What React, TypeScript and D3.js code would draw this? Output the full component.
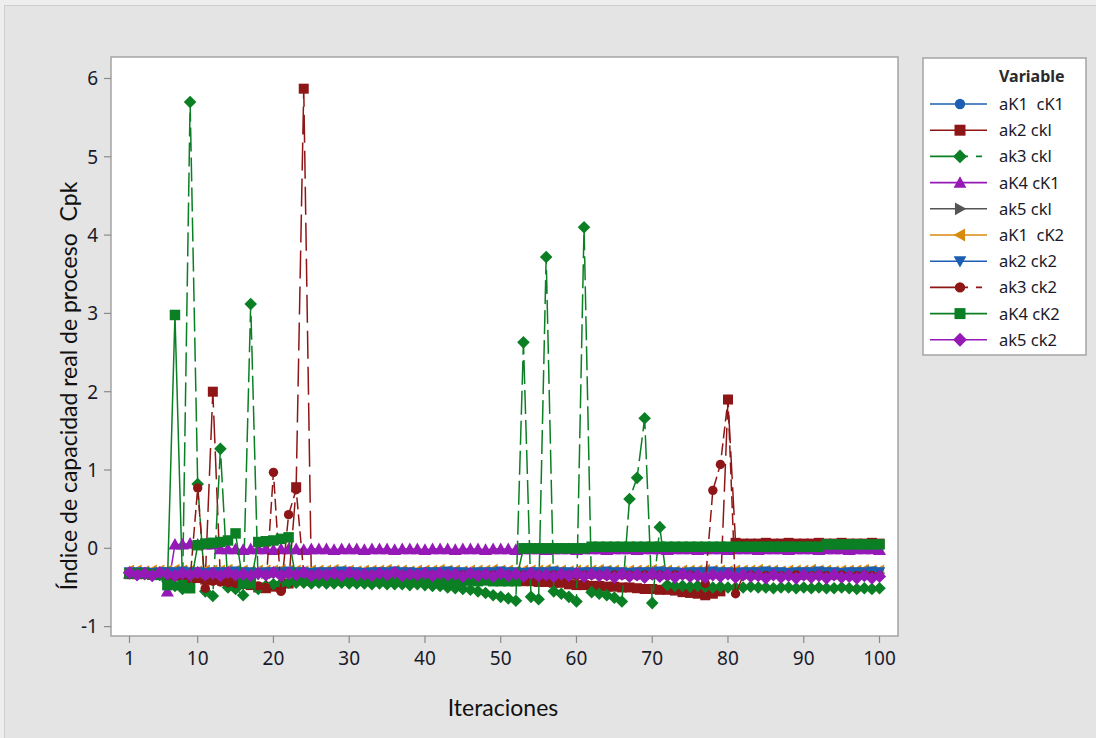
import React from "react";
import * as d3 from "d3";

// ---------- DATA ----------
const ITERATIONS: number[] = d3.range(1, 101);
const X_TICKS = [1, 10, 20, 30, 40, 50, 60, 70, 80, 90, 100];
const Y_TICKS = [-1, 0, 1, 2, 3, 4, 5, 6];

const aK1_cK1 = [
  -0.31,-0.31,-0.32,-0.31,-0.31,-0.30,-0.31,-0.31,-0.31,-0.32,
  -0.31,-0.31,-0.30,-0.31,-0.31,-0.31,-0.32,-0.31,-0.31,-0.31,
  -0.30,-0.31,-0.31,-0.31,-0.32,-0.31,-0.31,-0.30,-0.31,-0.31,
  -0.31,-0.32,-0.31,-0.31,-0.31,-0.30,-0.31,-0.31,-0.32,-0.31,
  -0.31,-0.31,-0.30,-0.31,-0.31,-0.32,-0.31,-0.31,-0.31,-0.30,
  -0.31,-0.31,-0.32,-0.31,-0.31,-0.31,-0.30,-0.31,-0.31,-0.32,
  -0.31,-0.31,-0.31,-0.30,-0.31,-0.31,-0.32,-0.31,-0.31,-0.31,
  -0.30,-0.31,-0.31,-0.32,-0.31,-0.31,-0.31,-0.30,-0.31,-0.31,
  -0.32,-0.31,-0.31,-0.31,-0.30,-0.31,-0.31,-0.32,-0.31,-0.31,
  -0.31,-0.30,-0.31,-0.31,-0.32,-0.31,-0.31,-0.31,-0.30,-0.31,
];
const ak2_ck1 = [
  -0.33,-0.33,-0.33,-0.34,-0.34,-0.34,-0.35,-0.35,-0.36,-0.38,
  -0.40, 2.00,-0.40,-0.42,-0.43,-0.45,-0.47,-0.50,-0.51,-0.49,
  -0.50,-0.45, 0.78, 5.87,-0.35,-0.34,-0.34,-0.34,-0.35,-0.34,
  -0.34,-0.34,-0.35,-0.34,-0.34,-0.35,-0.34,-0.34,-0.35,-0.34,
  -0.34,-0.35,-0.35,-0.35,-0.36,-0.36,-0.36,-0.37,-0.37,-0.38,
  -0.40,-0.41,-0.42,-0.42,-0.43,-0.43,-0.44,-0.44,-0.46,-0.47,
  -0.47,-0.48,-0.48,-0.49,-0.49,-0.50,-0.50,-0.51,-0.52,-0.52,
  -0.53,-0.53,-0.54,-0.56,-0.57,-0.58,-0.60,-0.58,-0.55, 1.90,
   0.07, 0.06, 0.06, 0.06, 0.07, 0.06, 0.06, 0.07, 0.06, 0.06,
   0.06, 0.07, 0.06, 0.06, 0.07, 0.06, 0.06, 0.06, 0.07, 0.06,
];
const ak3_ck1 = [
  -0.32,-0.32,-0.33,-0.33,-0.34,-0.42,-0.48,-0.52, 5.70, 0.82,
  -0.55,-0.61, 1.27,-0.50,-0.52,-0.60, 3.12,-0.52,-0.48,-0.46,
  -0.45,-0.44,-0.44,-0.44,-0.45,-0.44,-0.45,-0.45,-0.44,-0.45,
  -0.45,-0.45,-0.46,-0.45,-0.46,-0.46,-0.46,-0.47,-0.46,-0.47,
  -0.48,-0.48,-0.50,-0.51,-0.52,-0.53,-0.55,-0.57,-0.60,-0.62,
  -0.64,-0.67, 2.63,-0.62,-0.65, 3.72,-0.55,-0.58,-0.62,-0.68,
   4.10,-0.56,-0.58,-0.60,-0.63,-0.68, 0.63, 0.90, 1.66,-0.70,
   0.27,-0.47,-0.48,-0.48,-0.49,-0.48,-0.49,-0.50,-0.49,-0.50,
  -0.50,-0.50,-0.49,-0.50,-0.50,-0.51,-0.50,-0.50,-0.51,-0.50,
  -0.51,-0.50,-0.51,-0.51,-0.50,-0.51,-0.52,-0.51,-0.52,-0.51,
];
const aK4_cK1 = [
  -0.32,-0.32,-0.32,-0.32,-0.33,-0.55, 0.05, 0.05, 0.06, 0.05,
   0.05, 0.05,-0.01,-0.01,-0.01,-0.02,-0.01,-0.01,-0.01,-0.02,
  -0.01,-0.01,-0.01,-0.02,-0.01,-0.01,-0.01,-0.02,-0.01,-0.01,
  -0.01,-0.02,-0.01,-0.01,-0.01,-0.02,-0.01,-0.01,-0.01,-0.02,
  -0.01,-0.01,-0.01,-0.02,-0.01,-0.01,-0.01,-0.02,-0.01,-0.01,
  -0.01,-0.02,-0.01,-0.01,-0.01,-0.02,-0.01,-0.01,-0.01,-0.02,
  -0.01,-0.01,-0.01,-0.02,-0.01,-0.01,-0.01,-0.02,-0.01,-0.01,
  -0.01,-0.02,-0.01,-0.01,-0.01,-0.02,-0.01,-0.01,-0.01,-0.02,
  -0.01,-0.01,-0.01,-0.02,-0.01,-0.01,-0.01,-0.02,-0.01,-0.01,
  -0.01,-0.02,-0.01,-0.01,-0.01,-0.02,-0.01,-0.01,-0.01,-0.02,
];
const ak5_ck1 = [
  -0.32,-0.32,-0.31,-0.32,-0.32,-0.33,-0.32,-0.32,-0.31,-0.32,
  -0.32,-0.33,-0.32,-0.32,-0.31,-0.32,-0.32,-0.33,-0.32,-0.32,
  -0.31,-0.32,-0.32,-0.33,-0.32,-0.32,-0.31,-0.32,-0.32,-0.33,
  -0.32,-0.32,-0.31,-0.32,-0.32,-0.33,-0.32,-0.32,-0.31,-0.32,
  -0.32,-0.33,-0.32,-0.32,-0.31,-0.32,-0.32,-0.33,-0.32,-0.32,
  -0.31,-0.32,-0.32,-0.33,-0.32,-0.32,-0.31,-0.32,-0.32,-0.33,
  -0.32,-0.32,-0.31,-0.32,-0.32,-0.33,-0.32,-0.32,-0.31,-0.32,
  -0.32,-0.33,-0.32,-0.32,-0.31,-0.32,-0.32,-0.33,-0.32,-0.32,
  -0.31,-0.32,-0.32,-0.33,-0.32,-0.32,-0.31,-0.32,-0.32,-0.33,
  -0.32,-0.32,-0.31,-0.32,-0.32,-0.33,-0.32,-0.32,-0.31,-0.32,
];
const aK1_cK2 = [
  -0.28,-0.28,-0.29,-0.28,-0.28,-0.28,-0.27,-0.28,-0.28,-0.29,
  -0.28,-0.28,-0.28,-0.27,-0.28,-0.28,-0.29,-0.28,-0.28,-0.28,
  -0.27,-0.28,-0.28,-0.29,-0.28,-0.28,-0.28,-0.27,-0.28,-0.28,
  -0.29,-0.28,-0.28,-0.28,-0.27,-0.28,-0.28,-0.29,-0.28,-0.28,
  -0.28,-0.27,-0.28,-0.28,-0.29,-0.28,-0.28,-0.28,-0.27,-0.28,
  -0.28,-0.29,-0.28,-0.28,-0.28,-0.27,-0.28,-0.28,-0.29,-0.28,
  -0.28,-0.28,-0.27,-0.28,-0.28,-0.29,-0.28,-0.28,-0.28,-0.27,
  -0.28,-0.28,-0.29,-0.28,-0.28,-0.28,-0.27,-0.28,-0.28,-0.29,
  -0.28,-0.28,-0.28,-0.27,-0.28,-0.28,-0.29,-0.28,-0.28,-0.28,
  -0.27,-0.28,-0.28,-0.29,-0.28,-0.28,-0.28,-0.27,-0.28,-0.28,
];
const ak2_ck2 = [
  -0.30,-0.30,-0.30,-0.31,-0.30,-0.30,-0.30,-0.29,-0.30,-0.30,
  -0.31,-0.30,-0.30,-0.30,-0.29,-0.30,-0.30,-0.31,-0.30,-0.30,
  -0.30,-0.29,-0.30,-0.30,-0.31,-0.30,-0.30,-0.30,-0.29,-0.30,
  -0.30,-0.31,-0.30,-0.30,-0.30,-0.29,-0.30,-0.30,-0.31,-0.30,
  -0.30,-0.30,-0.29,-0.30,-0.30,-0.31,-0.30,-0.30,-0.30,-0.29,
  -0.30,-0.30,-0.31,-0.30,-0.30,-0.30,-0.29,-0.30,-0.30,-0.31,
  -0.30,-0.30,-0.30,-0.29,-0.30,-0.30,-0.31,-0.30,-0.30,-0.30,
  -0.29,-0.30,-0.30,-0.31,-0.30,-0.30,-0.30,-0.29,-0.30,-0.30,
  -0.31,-0.30,-0.30,-0.30,-0.29,-0.30,-0.30,-0.31,-0.30,-0.30,
  -0.30,-0.29,-0.30,-0.30,-0.31,-0.30,-0.30,-0.30,-0.29,-0.30,
];
const ak3_ck2 = [
  -0.33,-0.33,-0.33,-0.33,-0.34,-0.35,-0.36,-0.38,-0.40, 0.77,
  -0.51,-0.42,-0.43,-0.44,-0.45,-0.46,-0.47,-0.48,-0.50, 0.97,
  -0.55, 0.43, 0.75,-0.32,-0.34,-0.34,-0.34,-0.35,-0.34,-0.34,
  -0.34,-0.35,-0.34,-0.34,-0.34,-0.35,-0.34,-0.34,-0.34,-0.35,
  -0.34,-0.34,-0.34,-0.35,-0.34,-0.34,-0.34,-0.35,-0.34,-0.34,
  -0.34,-0.35,-0.34,-0.34,-0.34,-0.35,-0.34,-0.34,-0.34,-0.35,
  -0.34,-0.34,-0.34,-0.35,-0.34,-0.34,-0.34,-0.35,-0.34,-0.34,
  -0.34,-0.35,-0.34,-0.34,-0.34,-0.35,-0.45, 0.74, 1.07, 1.90,
  -0.58,-0.35,-0.34,-0.35,-0.35,-0.34,-0.35,-0.35,-0.34,-0.35,
  -0.35,-0.34,-0.35,-0.35,-0.34,-0.35,-0.35,-0.34,-0.35,-0.35,
];
const aK4_cK2 = [
  -0.32,-0.32,-0.32,-0.33,-0.34,-0.47, 2.98,-0.47,-0.51, 0.04,
   0.06, 0.07, 0.08, 0.10, 0.19,-0.45,-0.45, 0.08, 0.09, 0.10,
   0.12, 0.14,-0.40,-0.40,-0.41,-0.40,-0.40,-0.41,-0.40,-0.40,
  -0.41,-0.40,-0.40,-0.41,-0.40,-0.41,-0.41,-0.40,-0.41,-0.41,
  -0.40,-0.41,-0.41,-0.42,-0.41,-0.41,-0.42,-0.41,-0.42,-0.42,
  -0.42,-0.42, 0.00, 0.00, 0.00, 0.00, 0.00, 0.00, 0.00, 0.00,
   0.00, 0.02, 0.02, 0.02, 0.02, 0.02, 0.02, 0.02, 0.02, 0.02,
   0.02, 0.02, 0.02, 0.02, 0.02, 0.02, 0.02, 0.02, 0.02, 0.02,
   0.02, 0.02, 0.02, 0.02, 0.02, 0.02, 0.02, 0.02, 0.02, 0.02,
   0.02, 0.02, 0.05, 0.05, 0.05, 0.05, 0.05, 0.05, 0.05, 0.05,
];
const ak5_ck2 = [
  -0.31,-0.34,-0.32,-0.35,-0.31,-0.33,-0.35,-0.32,-0.34,-0.31,
  -0.34,-0.32,-0.35,-0.31,-0.34,-0.33,-0.35,-0.32,-0.34,-0.31,
  -0.35,-0.32,-0.34,-0.31,-0.35,-0.33,-0.34,-0.32,-0.35,-0.31,
  -0.34,-0.33,-0.35,-0.32,-0.34,-0.31,-0.35,-0.33,-0.34,-0.32,
  -0.35,-0.32,-0.34,-0.33,-0.36,-0.32,-0.35,-0.33,-0.36,-0.32,
  -0.35,-0.33,-0.36,-0.32,-0.35,-0.34,-0.36,-0.33,-0.35,-0.32,
  -0.36,-0.33,-0.35,-0.34,-0.37,-0.33,-0.36,-0.34,-0.37,-0.33,
  -0.36,-0.34,-0.37,-0.33,-0.36,-0.35,-0.37,-0.34,-0.36,-0.33,
  -0.37,-0.34,-0.36,-0.35,-0.38,-0.34,-0.37,-0.35,-0.38,-0.34,
  -0.37,-0.35,-0.38,-0.34,-0.37,-0.36,-0.38,-0.35,-0.38,-0.36,
];

const SERIES_NAMES = [
  "aK1  cK1", "ak2 ckl", "ak3 ckl", "aK4 cK1", "ak5 ckl",
  "aK1  cK2", "ak2 ck2", "ak3 ck2", "aK4 cK2", "ak5 ck2",
];
const SERIES_VALUES = [
  aK1_cK1, ak2_ck1, ak3_ck1, aK4_cK1, ak5_ck1,
  aK1_cK2, ak2_ck2, ak3_ck2, aK4_cK2, ak5_ck2,
];

// ---------- STYLE ----------
const BLUE = "#1c5fb2";
const RED = "#8e1616";
const GREEN = "#0b7f24";
const PURPLE = "#9419b6";
const GRAY = "#555555";
const ORANGE = "#d88a0c";

type Sym = "circle" | "square" | "diamond" | "triUp" | "triDown" | "triLeft" | "triRight";
const STYLES: { color: string; sym: Sym; dash: string; legendDash: string; k: number }[] = [
  { color: BLUE, sym: "circle", dash: "", legendDash: "", k: 1 },
  { color: RED, sym: "square", dash: "28,8", legendDash: "", k: 1 },
  { color: GREEN, sym: "diamond", dash: "24,6", legendDash: "38,8,6,8", k: 1 },
  { color: PURPLE, sym: "triUp", dash: "", legendDash: "", k: 1.12 },
  { color: GRAY, sym: "triRight", dash: "", legendDash: "", k: 1 },
  { color: ORANGE, sym: "triLeft", dash: "", legendDash: "", k: 1 },
  { color: BLUE, sym: "triDown", dash: "", legendDash: "", k: 1 },
  { color: RED, sym: "circle", dash: "12,5", legendDash: "38,8,6,8", k: 1 },
  { color: GREEN, sym: "square", dash: "", legendDash: "", k: 1.05 },
  { color: PURPLE, sym: "diamond", dash: "", legendDash: "", k: 1.05 },
];

function Marker({ sym, x, y, color, k = 1 }: { sym: Sym; x: number; y: number; color: string; k?: number }) {
  const t = `translate(${x},${y}) scale(${k})`;
  switch (sym) {
    case "circle":
      return <circle cx={x} cy={y} r={4.7 * k} fill={color} />;
    case "square":
      return <path transform={t} d="M-5,-5h10v10h-10z" fill={color} />;
    case "diamond":
      return <path transform={t} d="M0,-6.3L6.3,0L0,6.3L-6.3,0Z" fill={color} />;
    case "triUp":
      return <path transform={t} d="M0,-5.8L5.8,4.6L-5.8,4.6Z" fill={color} />;
    case "triDown":
      return <path transform={t} d="M0,5.8L5.8,-4.6L-5.8,-4.6Z" fill={color} />;
    case "triLeft":
      return <path transform={t} d="M-5.8,0L4.6,-5.8L4.6,5.8Z" fill={color} />;
    case "triRight":
      return <path transform={t} d="M5.8,0L-4.6,-5.8L-4.6,5.8Z" fill={color} />;
  }
}

const W = 1096;
const H = 738;
const PLOT = { left: 111, right: 898, top: 57, bottom: 636 };

export default function App() {
  const x = d3.scaleLinear().domain([1, 100]).range([129.5, 879.5]);
  const y = d3.scaleLinear().domain([-1, 6]).range([626.6, 78.5]);
  const line = d3
    .line<number>()
    .x((_, i) => x(ITERATIONS[i]))
    .y((d) => y(d));

  const tickFont = "'Noto Sans', 'Open Sans', sans-serif";
  const titleFont = "Lato, 'Noto Sans', sans-serif";

  return (
    <svg
      width={W}
      height={H}
      style={{ position: "absolute", left: 0, top: 0 }}
      xmlns="http://www.w3.org/2000/svg"
    >
      <rect x={0} y={0} width={W} height={H} fill="#eeeeee" />
      <rect x={4.5} y={5.5} width={W - 4} height={H - 4} fill="#e4e4e4" stroke="#cfcfcf" strokeWidth={1} />

      <defs>
        <clipPath id="plotclip">
          <rect x={PLOT.left} y={PLOT.top} width={PLOT.right - PLOT.left} height={PLOT.bottom - PLOT.top} />
        </clipPath>
      </defs>

      <rect
        x={PLOT.left}
        y={PLOT.top}
        width={PLOT.right - PLOT.left}
        height={PLOT.bottom - PLOT.top}
        fill="#ffffff"
        stroke="#a4a4a4"
        strokeWidth={1.5}
      />

      <g clipPath="url(#plotclip)">
        {SERIES_VALUES.map((vals, si) => {
          const st = STYLES[si];
          return (
            <g key={si}>
              <path
                d={line(vals) || ""}
                fill="none"
                stroke={st.color}
                strokeWidth={1.5}
                strokeDasharray={st.dash || undefined}
              />
              {vals.map((v, i) => (
                <Marker key={i} sym={st.sym} x={x(ITERATIONS[i])} y={y(v)} color={st.color} k={st.k} />
              ))}
            </g>
          );
        })}
      </g>

      {Y_TICKS.map((t) => (
        <g key={t}>
          <line x1={PLOT.left - 7} x2={PLOT.left} y1={y(t)} y2={y(t)} stroke="#8a8a8a" strokeWidth={1.2} />
          <text x={98} y={y(t)} dy="0.36em" textAnchor="end" fontFamily={tickFont} fontSize={19} fill="#1a1a2a">
            {t}
          </text>
        </g>
      ))}

      {X_TICKS.map((t) => (
        <g key={t}>
          <line x1={x(t)} x2={x(t)} y1={PLOT.bottom} y2={PLOT.bottom + 7} stroke="#8a8a8a" strokeWidth={1.2} />
          <text x={x(t)} y={665} textAnchor="middle" fontFamily={tickFont} fontSize={19} fill="#1a1a2a">
            {t}
          </text>
        </g>
      ))}

      <text x={503} y={716} textAnchor="middle" fontFamily={titleFont} fontSize={23} fill="#111">
        Iteraciones
      </text>
      <text
        transform="translate(77,386) rotate(-90)"
        textAnchor="middle"
        fontFamily={titleFont}
        fontSize={23}
        fill="#111"
        style={{ whiteSpace: "pre" }}
      >
        {"Índice de capacidad real de proceso  Cpk"}
      </text>

      <rect x={923} y={58} width={163} height={297} fill="#ffffff" stroke="#a4a4a4" strokeWidth={1.5} />
      <text x={999} y={82} fontFamily={tickFont} fontSize={16} fontWeight="bold" fill="#2a2a2a">
        Variable
      </text>
      {SERIES_NAMES.map((name, i) => {
        const st = STYLES[i];
        const ly = 104 + i * 26.2;
        return (
          <g key={name}>
            <line
              x1={930}
              x2={987}
              y1={ly}
              y2={ly}
              stroke={st.color}
              strokeWidth={1.6}
              strokeDasharray={st.legendDash || undefined}
            />
            <Marker sym={st.sym} x={960} y={ly} color={st.color} k={1.1} />
            <text
              x={999}
              y={ly}
              dy="0.36em"
              fontFamily={tickFont}
              fontSize={16.5}
              fill="#1a1a2a"
              style={{ whiteSpace: "pre" }}
            >
              {name}
            </text>
          </g>
        );
      })}
    </svg>
  );
}
